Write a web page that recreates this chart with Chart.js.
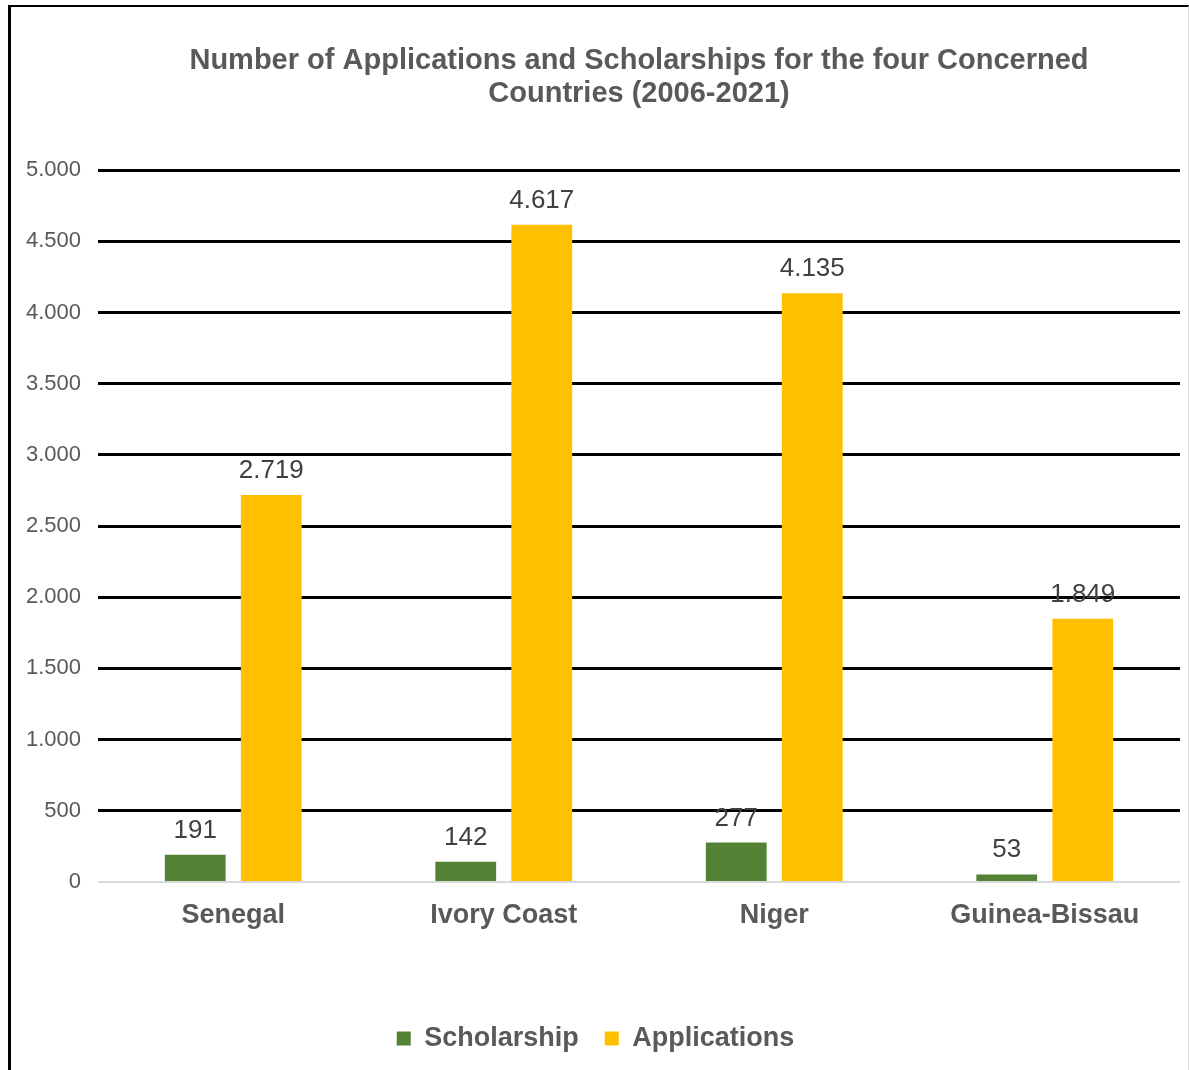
<!DOCTYPE html>
<html>
<head>
    <title>Applications and Scholarships (2006-2021)</title>
    <script src="https://cdn.jsdelivr.net/npm/chart.js"></script>
    <style>
        html, body { margin: 0; padding: 0; background: #fff; overflow: hidden; }
        #frame {
            position: absolute; left: 8px; top: 5px;
            width: 1177px; height: 1070px;
            border-left: 3px solid #000; border-top: 2px solid #000; border-right: 1px solid #d9d9d9;
        }
        #chart { display: block; }
    </style>
</head>
<body>
<div id="frame"><canvas id="chart" width="1177" height="1065"></canvas></div>
<script>
    // Countries and totals over 2006-2021
    const countries = ["Senegal", "Ivory Coast", "Niger", "Guinea-Bissau"];
    const scholarships = [191, 142, 277, 53];
    const applications = [2719, 4617, 4135, 1849];

    const grey = "#595959";
    const family = "'Liberation Sans', Arial, sans-serif";
    const fmt = v => String(v).replace(/\B(?=(\d{3})+(?!\d))/g, ".");

    // value labels above each bar
    const barLabels = {
        id: "barLabels",
        afterDatasetsDraw(chart) {
            const ctx = chart.ctx;
            ctx.save();
            ctx.font = "26px " + family;
            ctx.fillStyle = "#404040";
            ctx.textAlign = "center";
            ctx.textBaseline = "alphabetic";
            chart.data.datasets.forEach((ds, i) => {
                chart.getDatasetMeta(i).data.forEach((bar, j) => {
                    ctx.fillText(fmt(ds.data[j]), bar.x, bar.y - 17);
                });
            });
            ctx.restore();
        }
    };

    new Chart(document.getElementById("chart"), {
        type: "bar",
        data: {
            labels: countries,
            datasets: [
                { label: "Scholarship", data: scholarships, backgroundColor: "#548235" },
                { label: "Applications", data: applications, backgroundColor: "#FFC000" }
            ]
        },
        options: {
            responsive: false,
            animation: false,
            categoryPercentage: 0.562,
            barPercentage: 0.8,
            layout: { padding: { top: 24, right: 8, left: 0, bottom: 10 } },
            plugins: {
                title: {
                    display: true,
                    fullSize: false,
                    text: ["Number of Applications and Scholarships for the four Concerned", "Countries (2006-2021)"],
                    color: grey,
                    font: { family: family, size: 29, weight: "bold", lineHeight: 1.14 },
                    padding: { top: 13, bottom: 60 }
                },
                legend: {
                    position: "bottom",
                    labels: {
                        color: grey,
                        boxWidth: 14,
                        boxHeight: 14,
                        padding: 26,
                        font: { family: family, size: 27, weight: "bold" }
                    }
                },
                tooltip: { enabled: false }
            },
            scales: {
                x: {
                    afterFit: s => { s.height = 117; },
                    grid: { display: false },
                    border: { display: false },
                    ticks: {
                        color: grey,
                        padding: 9,
                        font: { family: family, size: 27, weight: "bold" }
                    }
                },
                y: {
                    min: 0,
                    max: 5000,
                    afterFit: s => { s.width = 87; },
                    border: { display: false },
                    grid: {
                        drawTicks: false,
                        color: c => c.tick.value === 0 ? "#d9d9d9" : "#000",
                        lineWidth: c => c.tick.value === 0 ? 2 : 3
                    },
                    ticks: {
                        stepSize: 500,
                        color: grey,
                        padding: 17,
                        font: { family: family, size: 22 },
                        callback: v => fmt(v)
                    }
                }
            }
        },
        plugins: [barLabels]
    });
</script>
</body>
</html>
